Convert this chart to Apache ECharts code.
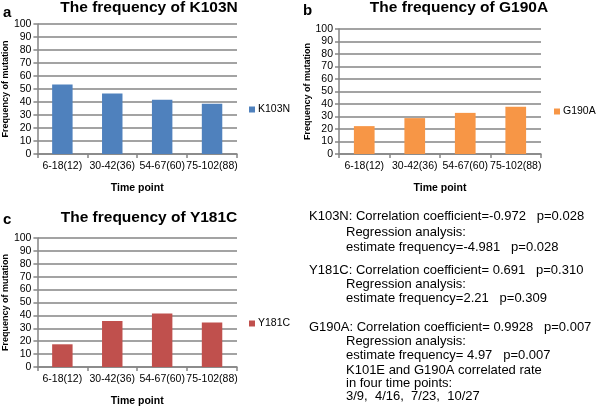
<!DOCTYPE html>
<html><head><meta charset="utf-8">
<script src="https://cdn.jsdelivr.net/npm/echarts@6/dist/echarts.min.js"></script>
<style>html,body{margin:0;padding:0;background:#fff}#c{width:600px;height:420px}</style>
</head><body><div id="c"></div>
<script>
const categories = ['6-18(12)', '30-42(36)', '54-67(60)', '75-102(88)'];
const k103n = [53.5, 46.5, 41.8, 38.6];
const g190a = [22.3, 28.7, 32.9, 37.9];
const y181c = [17.6, 35.6, 41.4, 34.4];
const seriesNames = ['K103N', 'G190A', 'Y181C'];
const titles = ['The frequency of K103N', 'The frequency of G190A', 'The frequency of Y181C'];
const panelLabels = ['a', 'b', 'c'];
const yTicks = [0, 10, 20, 30, 40, 50, 60, 70, 80, 90, 100];
const notes = [
  ['K103N: Correlation coefficient=-0.972   p=0.028', 0],
  ['Regression analysis:', 1],
  ['estimate frequency=-4.981   p=0.028', 1],
  ['Y181C: Correlation coefficient= 0.691   p=0.310', 0],
  ['Regression analysis:', 1],
  ['estimate frequency=2.21   p=0.309', 1],
  ['G190A: Correlation coefficient= 0.9928   p=0.007', 0],
  ['Regression analysis:', 1],
  ['estimate frequency= 4.97   p=0.007', 1],
  ['K101E and G190A correlated rate', 1],
  ['in four time points:', 1],
  ['3/9,  4/16,  7/23,  10/27', 1]
];
const noteY = [216, 232, 247, 270, 284, 298, 327, 341, 355, 370, 383, 396];

const colors = ['#4f81bd', '#f79646', '#c0504d'];
const values = [k103n, g190a, y181c];
const FONT = 'Liberation Sans, Arial, sans-serif';
const gridCol = '#858585';

const grids = [
  {left: 33, top: 24, width: 204, height: 130},
  {left: 339, top: 29, width: 202, height: 125},
  {left: 35, top: 238, width: 202, height: 129}
];
const titlePos = [[149, 0], [459, 0], [149, 210]];
const labelPos = [[3, 5], [303, 3], [3, 212]];
const legendPos = [[249, 104], [554, 106], [249, 318]];

const chart = echarts.init(document.getElementById('c'));
const option = {
  animation: false,
  grid: grids,
  title: titles.map((t, i) => ({
    text: t, left: titlePos[i][0], top: titlePos[i][1], textAlign: 'center', padding: 0,
    textStyle: {fontFamily: FONT, fontSize: 15.5, fontWeight: 'bold', color: '#000'}
  })).concat(panelLabels.map((t, i) => ({
    text: t, left: labelPos[i][0], top: labelPos[i][1], padding: 0,
    textStyle: {fontFamily: FONT, fontSize: 15, fontWeight: 'bold', color: '#000'}
  }))),
  legend: seriesNames.map((n, i) => ({
    data: [n], left: legendPos[i][0], top: legendPos[i][1], padding: 0,
    itemWidth: 6, itemHeight: 6, itemGap: 2, icon: 'rect',
    textStyle: {fontFamily: FONT, fontSize: 10.5, color: '#000', padding: [0, 0, 0, -2]}
  })),
  xAxis: grids.map((g, i) => ({
    type: 'category', gridIndex: i, data: categories,
    name: 'Time point', nameLocation: 'middle', nameGap: 29,
    nameTextStyle: {fontFamily: FONT, fontSize: 10.5, fontWeight: 'bold', color: '#000'},
    axisLine: {lineStyle: {color: gridCol, width: 1.5}},
    axisTick: {show: true, length: 4, lineStyle: {color: gridCol, width: 1.5}},
    axisLabel: {fontFamily: FONT, fontSize: 10.5, color: '#000', margin: 7, interval: 0}
  })),
  yAxis: grids.map((g, i) => ({
    type: 'value', gridIndex: i, min: 0, max: 100, interval: 10,
    name: 'Frequency of mutation', nameLocation: 'middle', nameGap: 25,
    nameTextStyle: {fontFamily: FONT, fontSize: 9, fontWeight: 'bold', color: '#000'},
    axisLine: {show: true, lineStyle: {color: gridCol, width: 1.5}},
    axisTick: {show: true, length: 4, lineStyle: {color: gridCol, width: 1.5}},
    axisLabel: {fontFamily: FONT, fontSize: 10.5, color: '#000', margin: 6,
      formatter: v => yTicks.includes(v) ? String(v) : ''},
    splitLine: {lineStyle: {color: gridCol, width: 1.5}}
  })),
  series: seriesNames.map((n, i) => ({
    name: n, type: 'bar', xAxisIndex: i, yAxisIndex: i, data: values[i],
    barWidth: '41%', itemStyle: {color: colors[i]}
  })),
  graphic: notes.map((nt, i) => ({
    type: 'text', left: nt[1] ? 346 : 309, top: noteY[i] - 6,
    style: {text: nt[0], font: '13px ' + FONT, fill: '#000'}
  }))
};
chart.setOption(option);
</script></body></html>
